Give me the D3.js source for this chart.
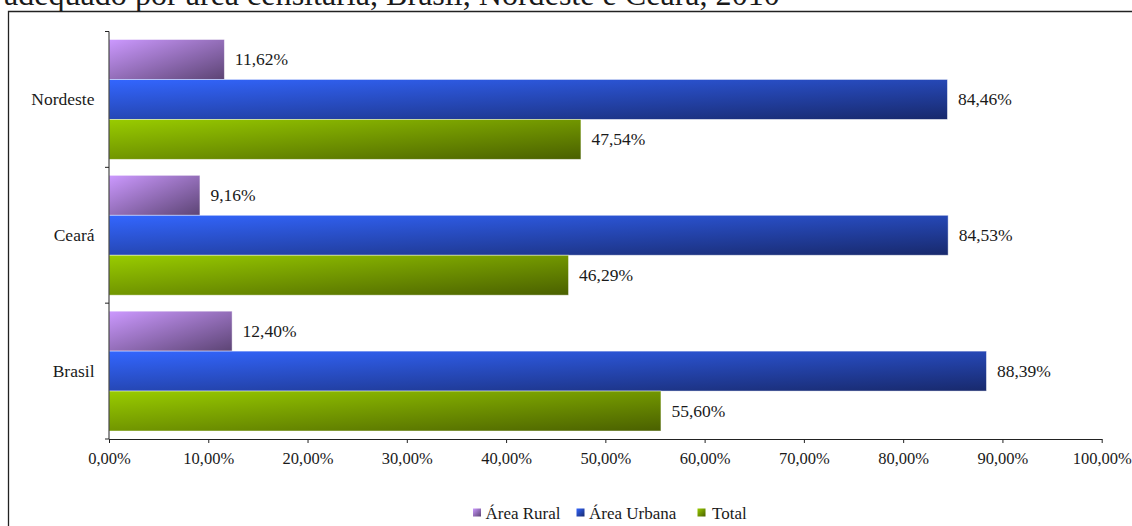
<!DOCTYPE html>
<html>
<head>
<meta charset="utf-8">
<script src="https://cdn.jsdelivr.net/npm/d3@7/dist/d3.min.js"></script>
<style>
  html, body { margin: 0; padding: 0; background: #fff; }
  svg { display: block; }
  text { font-family: "Liberation Serif", "Times New Roman", serif; fill: #1a1a1a; }
</style>
</head>
<body>
<svg id="chart" width="1132" height="526"></svg>
<script>
// Share of households per area type, by region (2010)
const regions = ["Nordeste", "Ceará", "Brasil"];
const seriesNames = ["Área Rural", "Área Urbana", "Total"];
const ruralValues = [11.62, 9.16, 12.40];
const urbanValues = [84.46, 84.53, 88.39];
const totalValues = [47.54, 46.29, 55.60];
const xTicks = [0, 10, 20, 30, 40, 50, 60, 70, 80, 90, 100];
const titleLine = "adequado por área censitária, Brasil, Nordeste e Ceará, 2010";

const seriesValues = [ruralValues, urbanValues, totalValues];
// light (top-left) → dark (bottom-right) shades for each series
const seriesShades = [
  ["#cc99ff", "#5c4474"],
  ["#3366ff", "#18296c"],
  ["#99cc00", "#4a6000"]
];

const labelSize = "17.5px";
const tickSize = "16.5px";
const serif = "'Liberation Serif', 'Times New Roman', serif";

const svg = d3.select("#chart");
const ptBR = d3.formatLocale({ decimal: ",", thousands: ".", grouping: [3], currency: ["R$", ""] });
const pct = v => ptBR.format(".2f")(v) + "%";

// gradients
const defs = svg.append("defs");
seriesShades.forEach((s, i) => {
  const g = defs.append("linearGradient")
    .attr("id", "grad" + i)
    .attr("x1", 0).attr("y1", 0).attr("x2", 1).attr("y2", 1);
  g.append("stop").attr("offset", "0%").attr("stop-color", s[0]);
  g.append("stop").attr("offset", "100%").attr("stop-color", s[1]);
});

// last line of the heading; its upper part runs past the page top
const title = svg.append("text")
  .attr("x", 4).attr("y", 5)
  .style("font-size", "27px")
  .text(titleLine);
const tw = title.node().getComputedTextLength();
title.style("font-size", (27 * 776 / tw).toFixed(2) + "px");

// outer frame
svg.append("path")
  .attr("d", "M8.5,530 V11.5 H1140")
  .attr("fill", "none")
  .attr("stroke", "#222")
  .attr("stroke-width", 1.3);

const x = d3.scaleLinear().domain([0, 100]).range([109, 1101.7]);
const y = d3.scaleBand().domain(regions).range([31.5, 439]);
const inner = d3.scaleBand().domain(seriesNames).range([8, y.bandwidth() - 8]);

// bars
const rows = regions.map((r, ri) => ({
  region: r,
  items: seriesNames.map((s, si) => ({ series: s, si, value: seriesValues[si][ri] }))
}));

const groups = svg.append("g").selectAll("g")
  .data(rows).join("g")
  .attr("transform", d => `translate(0,${y(d.region)})`);

groups.selectAll("rect")
  .data(d => d.items).join("rect")
  .attr("x", x(0))
  .attr("y", d => inner(d.series))
  .attr("width", d => x(d.value) - x(0))
  .attr("height", inner.bandwidth())
  .attr("fill", d => `url(#grad${d.si})`)
  .attr("stroke", "rgba(255,255,255,0.55)")
  .attr("stroke-width", 0.8);

groups.selectAll("text.val")
  .data(d => d.items).join("text")
  .attr("class", "val")
  .attr("x", d => x(d.value) + 10.5)
  .attr("y", d => inner(d.series) + inner.bandwidth() / 2)
  .attr("dy", "0.34em")
  .style("font-size", labelSize)
  .text(d => pct(d.value));

// x axis
const xAxis = svg.append("g")
  .attr("transform", "translate(0,439)")
  .call(d3.axisBottom(x).tickValues(xTicks).tickSize(4).tickSizeOuter(0).tickPadding(9.5).tickFormat(pct));
xAxis.select(".domain").attr("stroke", "#222");
xAxis.selectAll(".tick line").attr("stroke", "#222");
xAxis.selectAll(".tick text")
  .style("font-size", tickSize)
  .style("font-family", serif)
  .attr("fill", "#1a1a1a");

// y axis: labels centred on bands, ticks on band boundaries
const yAxis = svg.append("g")
  .attr("transform", "translate(109,0)")
  .call(d3.axisLeft(y).tickSize(0).tickPadding(14.5));
yAxis.select(".domain").remove();
yAxis.selectAll(".tick text")
  .style("font-size", labelSize)
  .style("font-family", serif)
  .attr("fill", "#1a1a1a");

const bounds = regions.map(r => y(r)).concat([y.range()[1]]);
svg.append("line")
  .attr("x1", 109).attr("x2", 109)
  .attr("y1", bounds[0]).attr("y2", bounds[bounds.length - 1])
  .attr("stroke", "#222");
svg.append("g").selectAll("line")
  .data(bounds).join("line")
  .attr("x1", 105).attr("x2", 109)
  .attr("y1", d => d).attr("y2", d => d)
  .attr("stroke", "#222");

// legend
const legendX = [473, 576.5, 697.5];
const legend = svg.append("g").selectAll("g")
  .data(seriesNames).join("g")
  .attr("transform", (d, i) => `translate(${legendX[i]},513)`);
legend.append("rect")
  .attr("x", 0).attr("y", -4.5)
  .attr("width", 8).attr("height", 8)
  .attr("fill", (d, i) => `url(#grad${i})`);
legend.append("text")
  .attr("x", (d, i) => i === 2 ? 14.5 : 12.5)
  .attr("dy", "0.33em")
  .style("font-size", "17px")
  .text(d => d);
</script>
</body>
</html>
